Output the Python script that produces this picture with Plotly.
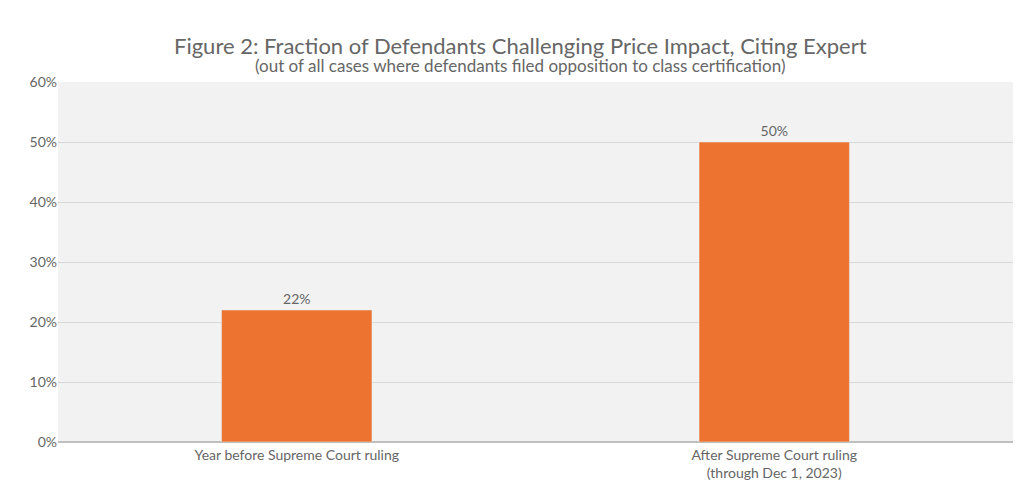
import plotly.graph_objects as go

categories = ["Year before Supreme Court ruling", "After Supreme Court ruling<br>(through Dec 1, 2023)"]
values = [0.22, 0.50]
labels = ["22%", "50%"]

fig = go.Figure(go.Bar(
    x=categories, y=values, width=0.315,
    marker_color="#ED7430",
    text=labels, textposition="outside",
    textfont=dict(size=14, color="#666666"),
    cliponaxis=False,
))
fig.update_layout(
    width=1024, height=482,
    paper_bgcolor="white", plot_bgcolor="#F2F2F2",
    margin=dict(l=50, r=19, t=74, b=48, autoexpand=False),
    font=dict(family="Lato, Open Sans, sans-serif", color="#666666", size=14),
    showlegend=False,
)
fig.add_annotation(text="Figure 2: Fraction of Defendants Challenging Price Impact, Citing Expert",
                   x=512, xref="paper", yref="paper", y=1, yshift=52, showarrow=False,
                   font=dict(size=22, color="#666666"))
fig.add_annotation(text="(out of all cases where defendants filed opposition to class certification)",
                   x=512, xref="paper", yref="paper", y=1, yshift=29, showarrow=False,
                   font=dict(size=17, color="#666666"))
# center annotations on page
for a in fig.layout.annotations:
    a.x = (512 - 50) / (1024 - 50 - 19)
fig.update_yaxes(range=[0, 0.6], dtick=0.1, tickformat=".0%", gridcolor="#D9D9D9",
                 zeroline=True, zerolinecolor="#BFBFBF", ticks="", automargin=False,
                 tickfont=dict(size=14))
fig.update_xaxes(showline=True, linecolor="#BFBFBF", automargin=False, tickfont=dict(size=14))
fig.update_traces(textfont_size=14)
fig.write_html("out.html")
